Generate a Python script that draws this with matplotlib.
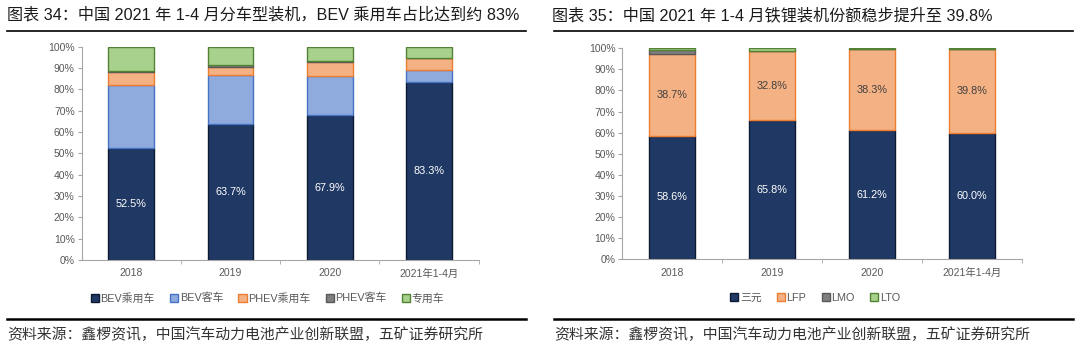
import matplotlib
matplotlib.use("Agg")
import matplotlib.pyplot as plt
import matplotlib.ticker as ticker
from matplotlib.lines import Line2D
from matplotlib.patches import Patch
import numpy as np

# Arial-like Latin glyphs, CJK falls back to Noto
plt.rcParams["font.family"] = ["Liberation Sans", "Noto Sans CJK SC", "DejaVu Sans"]

# ---- data ---------------------------------------------------------------
categories = ["2018", "2019", "2020", "2021年1-4月"]

# left: share by vehicle type (%)
bev_passenger = [52.5, 63.7, 67.9, 83.3]
bev_bus = [29.5, 22.9, 18.2, 5.6]
phev_passenger = [6.2, 4.0, 6.6, 5.8]
phev_bus = [0.5, 0.7, 0.4, 0.2]
special = [11.3, 8.7, 6.9, 5.1]
left_names = ["BEV乘用车", "BEV客车", "PHEV乘用车", "PHEV客车", "专用车"]

# right: share by cathode chemistry (%)
ncm = [58.6, 65.8, 61.2, 60.0]
lfp = [38.7, 32.8, 38.3, 39.8]
lmo = [2.1, 0.2, 0.1, 0.0]
lto = [0.6, 1.2, 0.4, 0.2]
right_names = ["三元", "LFP", "LMO", "LTO"]

FACE = ["#203864", "#8FAADC", "#F4B183", "#7F7F7F", "#A9D18E"]
EDGE = ["#0D1A33", "#4472C4", "#ED7D31", "#595959", "#548235"]
TXT = "#595959"
SPINE = "#A6A6A6"


def stacked(ax, series, face, edge, label_idx, label_colors):
    x = np.arange(len(categories))
    bottom = np.zeros(len(categories))
    for k, vals in enumerate(series):
        vals = np.array(vals)
        ax.bar(x, vals, bottom=bottom, width=0.46, color=face[k],
               edgecolor=edge[k], linewidth=1.0, zorder=2)
        if k in label_idx:
            for i, v in enumerate(vals):
                ax.text(x[i], bottom[i] + v / 2, f"{v:.1f}%", ha="center",
                        va="center", fontsize=7.8, color=label_colors[k])
        bottom += vals

    ax.set_xlim(-0.5, len(categories) - 0.5)
    ax.set_ylim(0, 100)
    ax.yaxis.set_major_locator(ticker.MultipleLocator(10))
    ax.yaxis.set_major_formatter(ticker.FuncFormatter(lambda v, p: f"{v:.0f}%"))
    ax.set_xticks(x)
    ax.set_xticklabels(categories)
    ax.set_xticks(np.arange(len(categories)) + 0.5, minor=True)
    ax.tick_params(axis="x", which="major", length=0, pad=6,
                   labelsize=7.5, labelcolor=TXT)
    ax.tick_params(axis="x", which="minor", length=3, color=SPINE)
    ax.tick_params(axis="y", length=3, color=SPINE, labelsize=7.5,
                   labelcolor=TXT, pad=2)
    for s in ["top", "right"]:
        ax.spines[s].set_visible(False)
    for s in ["left", "bottom"]:
        ax.spines[s].set_color(SPINE)
        ax.spines[s].set_linewidth(0.8)


fig = plt.figure(figsize=(10.8, 3.5), dpi=100)

axL = fig.add_axes([0.0756, 0.2571, 0.3676, 0.6095])
stacked(axL, [bev_passenger, bev_bus, phev_passenger, phev_bus, special],
        FACE, EDGE, [0], {0: "white"})

right_face = [FACE[0], FACE[2], FACE[3], FACE[4]]
right_edge = [EDGE[0], EDGE[2], EDGE[3], EDGE[4]]
axR = fig.add_axes([0.5762, 0.2591, 0.3698, 0.603])
stacked(axR, [ncm, lfp, lmo, lto], right_face, right_edge, [0, 1],
        {0: "white", 1: "#404040"})

# legends
def handles(face, edge, names):
    return [Patch(facecolor=f, edgecolor=e, linewidth=1.0, label=n)
            for f, e, n in zip(face, edge, names)]

leg_kw = dict(frameon=False, fontsize=7.8, handlelength=0.75, handleheight=0.75,
              handletextpad=0.15, columnspacing=1.4, loc="center",
              labelcolor=TXT)
fig.legend(handles=handles(FACE, EDGE, left_names), ncol=5,
           bbox_to_anchor=(267.5 / 1080, 1 - 298 / 350), **leg_kw)
fig.legend(handles=handles(right_face, right_edge, right_names), ncol=4,
           bbox_to_anchor=(815 / 1080, 1 - 298 / 350), **leg_kw)

# titles, rules and source notes
fig.text(7 / 1080, 1 - 15 / 350,
         "图表 34：中国 2021 年 1-4 月分车型装机，BEV 乘用车占比达到约 83%",
         fontsize=11.6, va="center", ha="left", color="#1a1a1a")
fig.text(552 / 1080, 1 - 15 / 350,
         "图表 35：中国 2021 年 1-4 月铁锂装机份额稳步提升至 39.8%",
         fontsize=11.6, va="center", ha="left", color="#1a1a1a")

for x0, x1 in [(7, 526), (554, 1073)]:
    fig.add_artist(Line2D([x0 / 1080, x1 / 1080], [1 - 31 / 350] * 2,
                          color="black", linewidth=1.2))
    fig.add_artist(Line2D([x0 / 1080, x1 / 1080], [1 - 319 / 350] * 2,
                          color="black", linewidth=1.8))

src = "资料来源：鑫椤资讯，中国汽车动力电池产业创新联盟，五矿证券研究所"
fig.text(7 / 1080, 1 - 335 / 350, src, fontsize=10.7, va="center", ha="left",
         color="#333333")
fig.text(554 / 1080, 1 - 335 / 350, src, fontsize=10.7, va="center", ha="left",
         color="#333333")

fig.savefig("out.png", dpi=100)
